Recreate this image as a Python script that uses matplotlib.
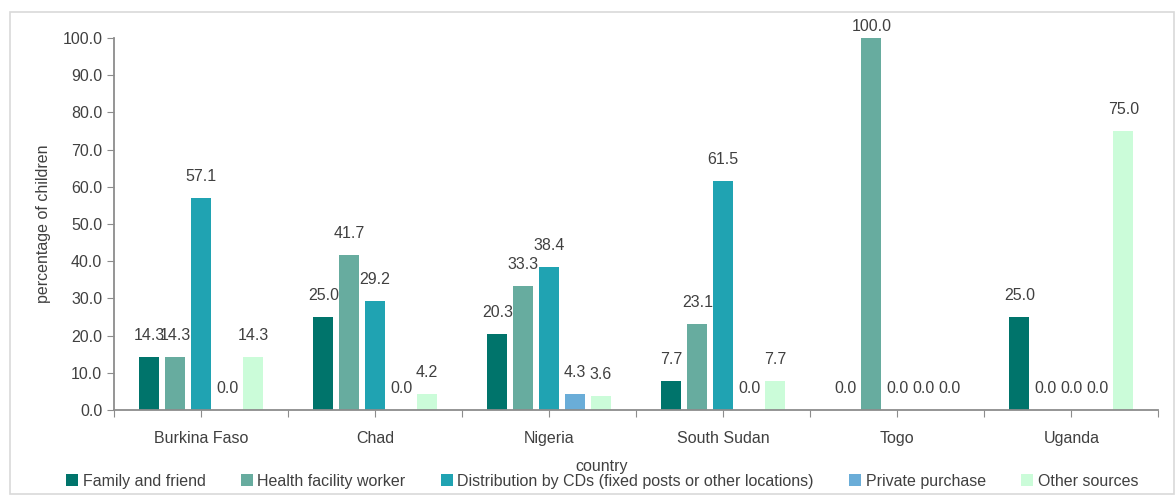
import matplotlib.pyplot as plt
import numpy as np
from matplotlib.patches import Rectangle

plt.rcParams['font.family'] = ['Liberation Sans', 'DejaVu Sans']

# --- data ---
countries = ["Burkina Faso", "Chad", "Nigeria", "South Sudan", "Togo", "Uganda"]
sources = ["Family and friend", "Health facility worker",
           "Distribution by CDs (fixed posts or other locations)",
           "Private purchase", "Other sources"]
family = [14.3, 25.0, 20.3, 7.7, 0.0, 25.0]
health = [14.3, 41.7, 33.3, 23.1, 100.0, 0.0]
cds = [57.1, 29.2, 38.4, 61.5, 0.0, 0.0]
private = [0.0, 0.0, 4.3, 0.0, 0.0, 0.0]
other = [14.3, 4.2, 3.6, 7.7, 0.0, 75.0]
colors = ["#00746B", "#67AC9F", "#20A3B2", "#6AADD8", "#CBFCD9"]

series = [family, health, cds, private, other]
text_color = "#404040"
axis_color = "#8C8C8C"

fig = plt.figure(figsize=(11.76, 4.95), dpi=100)
ax = fig.add_axes([0.097, 0.172, 0.888, 0.751])

x = np.arange(len(countries))
pitch = 0.149
width = 0.115
for i, (vals, c, name) in enumerate(zip(series, colors, sources)):
    xs = x + (i - 2) * pitch
    ax.bar(xs, vals, width=width, color=c, label=name)
    # value labels above each bar (the full-height bar gets a tighter gap)
    for xi, v in zip(xs, vals):
        off = 14 if v < 95 else 4
        ax.annotate(f"{v:.1f}", (xi, v), xytext=(0, off), textcoords="offset pixels",
                    ha="center", va="bottom", fontsize=11.5, color=text_color,
                    annotation_clip=False)

ax.set_xlim(-0.5, len(countries) - 0.5)
ax.set_ylim(0, 100)
ax.set_yticks(np.arange(0, 101, 10))
ax.set_yticklabels([f"{v:.1f}" for v in np.arange(0, 101, 10)])
ax.set_xticks(np.arange(-0.5, len(countries), 0.5))
ax.set_xticklabels([""] + sum([[c, ""] for c in countries], []))

for s in ["top", "right"]:
    ax.spines[s].set_visible(False)
for s in ["left", "bottom"]:
    ax.spines[s].set_color(axis_color)
    ax.spines[s].set_linewidth(1.3)
ax.tick_params(axis="both", direction="out", length=5, color=axis_color,
               labelsize=11.5, labelcolor=text_color)
ax.tick_params(axis="x", pad=10)

ax.set_ylabel("percentage of children", fontsize=11.5, color=text_color, labelpad=8)
fig.text(0.512, 0.048, "country", ha="center", fontsize=11.5, color=text_color)

fig.legend(loc="center", bbox_to_anchor=(0.512, 0.028), ncol=5, frameon=False,
           fontsize=11.5, labelcolor=text_color, handlelength=0.75, handleheight=0.75,
           handletextpad=0.3, columnspacing=2.2, borderaxespad=0)

fig.patches.append(Rectangle((10 / 1176, 0.002), 1164 / 1176, 1 - 12 / 495 - 0.002,
                             transform=fig.transFigure, fill=False,
                             edgecolor="#D9D9D9", linewidth=1.2))

plt.savefig("out.png", dpi=100)
